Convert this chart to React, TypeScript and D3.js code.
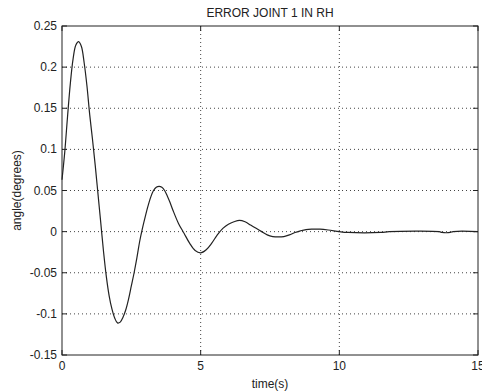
import React from "react";
import * as d3 from "d3";

const timeValues = [
  0, 0.1, 0.2, 0.3, 0.4, 0.5, 0.6, 0.7, 0.8, 0.9, 1.0, 1.1, 1.2, 1.3, 1.4, 1.5, 1.6, 1.7, 1.8, 1.9,
  2.0, 2.1, 2.2, 2.3, 2.4, 2.5, 2.6, 2.7, 2.8, 2.9, 3.0, 3.1, 3.2, 3.3, 3.4, 3.5, 3.6, 3.7, 3.8, 3.9,
  4.0, 4.2, 4.4, 4.6, 4.8, 5.0, 5.2, 5.4, 5.6, 5.8, 6.0, 6.2, 6.4, 6.6, 6.8, 7.0, 7.2, 7.4, 7.6, 7.8,
  8.0, 8.2, 8.4, 8.6, 8.8, 9.0, 9.3, 9.6, 10.0, 10.3, 11.5, 11.8, 13.6, 13.7, 14.0, 14.1, 15.0,
];
const errorValues = [
  0.063, 0.097, 0.14, 0.18, 0.21, 0.227, 0.231, 0.225, 0.205, 0.177, 0.142, 0.112, 0.08, 0.045, 0.01, -0.025, -0.055, -0.078, -0.094, -0.105,
  -0.111, -0.11, -0.104, -0.095, -0.082, -0.066, -0.05, -0.032, -0.012, 0.004, 0.018, 0.031, 0.042, 0.05, 0.054, 0.055, 0.054, 0.05, 0.043, 0.035,
  0.026, 0.01, -0.002, -0.014, -0.023, -0.0258, -0.022, -0.014, -0.004, 0.004, 0.009, 0.012, 0.0137, 0.012, 0.008, 0.004, 0.0, -0.004, -0.006, -0.0065,
  -0.006, -0.004, -0.001, 0.001, 0.0025, 0.003, 0.003, 0.002, 0.0, -0.001, -0.001, 0.0, 0.0, -0.001, -0.001, 0.0, 0.0,
];
const xTicks = [0, 5, 10, 15];
const yTicks = [-0.15, -0.1, -0.05, 0, 0.05, 0.1, 0.15, 0.2, 0.25];
const title = "ERROR JOINT 1 IN RH";
const xLabel = "time(s)";
const yLabel = "angle(degrees)";

export default function App() {
  const W = 482, H = 392;
  const left = 62, right = 478, top = 26, bottom = 355;
  const x = d3.scaleLinear().domain([0, 15]).range([left, right]);
  const y = d3.scaleLinear().domain([-0.15, 0.25]).range([bottom, top]);
  const pts: [number, number][] = timeValues.map((t, i) => [t, errorValues[i]]);
  const line = d3
    .line<[number, number]>()
    .x((d) => x(d[0]))
    .y((d) => y(d[1]))
    .curve(d3.curveCatmullRom.alpha(0.5));
  const font = "'Liberation Sans', Arial, sans-serif";
  const fmt = (v: number) => {
    const s = String(Math.round(v * 100) / 100);
    return s;
  };
  return (
    <svg
      width={W}
      height={H}
      style={{ position: "absolute", left: 0, top: 0, background: "#fff" }}
      fontFamily={font}
    >
      <rect x={0} y={0} width={W} height={H} fill="#fff" />
      {/* grid */}
      {xTicks.slice(1, -1).map((t) => (
        <line key={"gx" + t} x1={x(t)} x2={x(t)} y1={top} y2={bottom} stroke="#444" strokeWidth={1} strokeDasharray="1,3" />
      ))}
      {yTicks.slice(1, -1).map((t) => (
        <line key={"gy" + t} x1={left} x2={right} y1={y(t)} y2={y(t)} stroke="#444" strokeWidth={1} strokeDasharray="1,3" />
      ))}
      {/* data */}
      <path d={line(pts) || ""} fill="none" stroke="#222" strokeWidth={1.2} />
      {/* frame */}
      <rect x={left} y={top} width={right - left} height={bottom - top} fill="none" stroke="#222" strokeWidth={1} />
      {/* ticks */}
      {xTicks.map((t) => (
        <g key={"tx" + t}>
          <line x1={x(t)} x2={x(t)} y1={bottom} y2={bottom - 5} stroke="#222" />
          <line x1={x(t)} x2={x(t)} y1={top} y2={top + 5} stroke="#222" />
          <text x={x(t)} y={bottom + 15} fontSize={12} textAnchor="middle" fill="#222">
            {t}
          </text>
        </g>
      ))}
      {yTicks.map((t) => (
        <g key={"ty" + t}>
          <line x1={left} x2={left + 5} y1={y(t)} y2={y(t)} stroke="#222" />
          <line x1={right} x2={right - 5} y1={y(t)} y2={y(t)} stroke="#222" />
          <text x={left - 5} y={y(t) + 4} fontSize={12} textAnchor="end" fill="#222">
            {fmt(t)}
          </text>
        </g>
      ))}
      <text x={(left + right) / 2} y={17} fontSize={12} textAnchor="middle" fill="#222">
        {title}
      </text>
      <text x={(left + right) / 2} y={388} fontSize={12} textAnchor="middle" fill="#222">
        {xLabel}
      </text>
      <text
        transform={`translate(21,${(top + bottom) / 2}) rotate(-90)`}
        fontSize={12}
        textAnchor="middle"
        fill="#222"
      >
        {yLabel}
      </text>
    </svg>
  );
}
